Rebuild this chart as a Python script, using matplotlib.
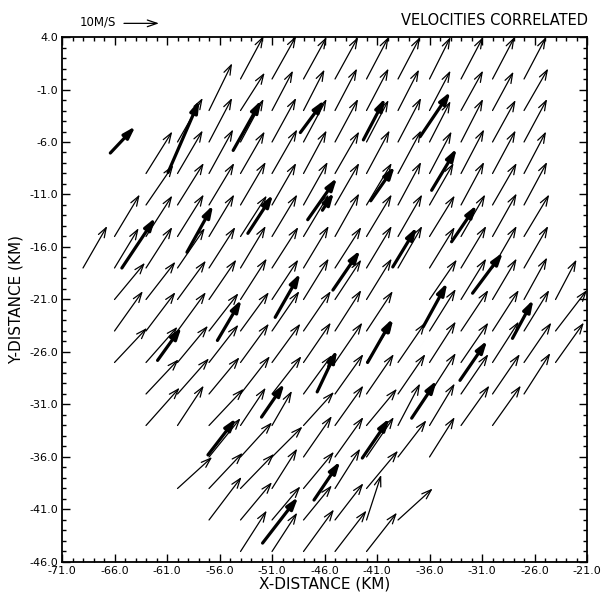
import matplotlib
matplotlib.use('Agg')
import matplotlib.pyplot as plt
from matplotlib.ticker import FixedLocator, FormatStrFormatter

# grid of tail positions (km)
grid_x = [-69, -66, -63, -60, -57, -54, -51, -48, -45, -42, -39, -36, -33, -30, -27, -24]
grid_y = [0, -3, -6, -9, -12, -15, -18, -21, -24, -27, -30, -33, -36, -39, -42, -45]

N = None
# u, v components (m/s), one row per grid_y, None = no vector
grid_u = [
    [N, N, N, N, N, 6.6, 6.9, 6.6, 6.6, 6.3, 6.3, 6.0, 6.3, 6.3, 6.3, N],
    [N, N, N, N, 6.6, 6.9, 6.0, 6.0, 6.3, 6.3, 6.0, 6.0, 6.3, 6.0, 6.9, N],
    [N, N, N, 7.2, 6.6, 6.6, 6.9, 6.6, 6.6, 6.3, 6.6, 6.0, 6.3, 6.6, 6.6, N],
    [N, N, 7.5, 7.2, 6.9, 6.9, 7.2, 6.6, 6.9, 6.6, 6.6, 6.3, 6.6, 6.6, 6.3, N],
    [N, N, 7.8, 7.5, 7.2, 7.2, 6.9, 6.9, 6.9, 7.2, 6.6, 6.9, 6.6, 6.9, 6.6, N],
    [N, 7.2, 7.5, 7.5, 7.2, 7.5, 7.2, 7.2, 6.9, 7.2, 6.9, 7.2, 6.9, 6.9, 7.2, N],
    [6.9, 6.9, 7.5, 7.8, 7.5, 7.2, 7.5, 7.2, 7.5, 7.2, 6.9, 7.2, 7.2, 6.9, 6.9, N],
    [N, 8.7, 8.4, 8.1, 7.8, 7.5, 7.5, 7.2, 7.5, 7.2, N, 7.8, 7.2, 6.9, 6.6, 6.0],
    [N, 8.1, 8.4, 8.1, 8.4, 8.1, 7.8, 7.8, 7.5, 7.5, N, 7.5, 7.8, 7.5, 7.2, 9.0],
    [N, 9.3, 9.0, 8.7, 8.4, 8.1, 8.1, 7.8, 7.8, 7.5, 7.8, 7.5, 7.8, 7.5, 7.8, 8.1],
    [N, N, 9.3, 9.0, 8.7, 8.4, 8.4, 8.1, 8.1, 7.8, 7.8, 7.5, 7.8, 7.8, 7.5, N],
    [N, N, 9.6, 7.5, 9.9, 7.2, 5.7, 8.7, 8.1, 8.7, 6.3, 7.2, 8.1, 8.1, N, N],
    [N, N, N, N, 9.0, 9.0, 8.7, 8.1, 8.1, 7.8, 8.1, 7.2, N, N, N, N],
    [N, N, N, 9.9, 9.6, 9.6, 7.2, 8.7, 7.2, 9.0, N, N, N, N, N, N],
    [N, N, N, N, 9.3, 9.0, 8.1, 8.1, 8.1, 4.2, 9.9, N, N, N, N, N],
    [N, N, N, N, N, 7.5, 7.2, 8.7, 9.0, 8.7, N, N, N, N, N, N],
]
grid_v = [
    [N, N, N, N, N, 12.3, 12.3, 12.0, 12.0, 12.0, 12.0, 12.0, 12.0, 12.0, 12.0, N],
    [N, N, N, N, 13.5, 10.8, 11.4, 11.7, 12.0, 12.0, 11.7, 11.4, 11.4, 11.1, 12.0, N],
    [N, N, N, 12.6, 12.6, 12.3, 12.6, 12.3, 12.3, 12.0, 12.6, 11.7, 12.3, 12.0, 12.3, N],
    [N, N, 12.0, 12.3, 12.6, 12.0, 12.6, 12.3, 12.0, 12.3, 12.3, 12.0, 12.6, 12.3, 12.0, N],
    [N, N, 11.4, 12.0, 12.0, 12.3, 12.0, 12.3, 12.0, 12.0, 12.3, 12.0, 12.3, 12.0, 12.3, N],
    [N, 12.0, 11.7, 12.0, 12.0, 11.7, 12.0, 12.0, 12.3, 12.0, 12.0, 11.7, 12.0, 12.3, 12.0, N],
    [12.0, 11.4, 11.7, 11.4, 11.7, 12.0, 11.7, 12.0, 11.7, 12.0, 12.0, 11.7, 12.0, 12.0, 12.0, N],
    [N, 10.5, 10.8, 11.1, 11.4, 11.7, 11.4, 11.7, 11.4, 11.7, N, 11.4, 11.7, 11.7, 12.0, 11.4],
    [N, 11.4, 11.1, 11.1, 10.8, 11.1, 11.4, 11.4, 11.7, 11.4, N, 12.0, 11.7, 11.7, 11.7, 11.7],
    [N, 9.9, 10.2, 10.5, 10.8, 11.1, 11.1, 11.4, 11.4, 11.7, 11.4, 11.7, 11.4, 11.7, 11.4, 11.4],
    [N, N, 9.9, 10.2, 10.5, 10.8, 10.8, 11.1, 11.4, 11.4, 11.4, 11.7, 11.4, 11.4, 11.7, N],
    [N, N, 10.8, 11.4, 10.5, 10.8, 9.9, 9.6, 11.4, 10.5, 12.0, 12.0, 11.4, 11.4, N, N],
    [N, N, N, N, 11.1, 9.9, 8.7, 11.7, 11.4, 11.4, 10.5, 11.4, N, N, N, N],
    [N, N, N, 9.0, 10.2, 9.9, 11.4, 10.5, 11.4, 10.8, N, N, N, N, N, N],
    [N, N, N, N, 12.3, 10.8, 9.6, 9.9, 10.5, 12.9, 9.0, N, N, N, N, N],
    [N, N, N, N, N, 11.7, 11.1, 12.0, 11.7, 11.1, N, N, N, N, N, N],
]

# correlated (heavy) vectors: tail x, tail y (km), u, v (m/s)
corr_x = [-66.4, -60.9, -54.7, -48.3, -42.3, -36.9, -35.8, -41.6, -46.2, -65.3, -59.1,
          -61.9, -56.2, -53.3, -47.6, -39.5, -45.2, -50.7, -41.9, -46.7, -52.0, -33.9,
          -31.9, -36.6, -28.1, -33.1, -37.7, -57.1, -51.9, -47.0, -42.4]
corr_y = [-7.05, -8.9, -6.8, -5.1, -5.8, -5.5, -10.6, -11.6, -12.5, -18.0, -16.5,
          -26.8, -24.9, -14.7, -13.4, -17.9, -20.1, -22.7, -27.0, -29.8, -32.2, -15.5,
          -20.4, -23.6, -24.7, -28.7, -32.3, -35.8, -44.2, -40.1, -36.1]
corr_u = [7.2, 9.0, 8.1, 6.9, 6.3, 8.7, 7.2, 6.9, 3.3, 9.6, 7.5,
          6.9, 6.9, 7.2, 8.4, 6.9, 7.8, 7.2, 7.2, 5.7, 6.6, 7.2,
          8.7, 6.9, 6.0, 7.8, 7.2, 8.1, 10.2, 7.5, 7.8]
corr_v = [7.65, 20.7, 14.4, 9.3, 12.0, 12.9, 12.0, 9.9, 5.1, 14.4, 13.5,
          9.6, 11.7, 11.1, 12.0, 11.4, 11.4, 12.6, 12.6, 12.0, 9.6, 10.5,
          11.7, 12.6, 11.1, 11.4, 10.8, 10.5, 13.2, 11.1, 11.4]

x_ticks = [-71, -66, -61, -56, -51, -46, -41, -36, -31, -26, -21]
y_ticks = [-46, -41, -36, -31, -26, -21, -16, -11, -6, -1, 4]

SCALE = 3.0   # m/s per km of arrow length
REF_SPEED = 10.0

fig = plt.figure(figsize=(6.05, 5.93), dpi=100)
ax = fig.add_axes([0.1025, 0.0523, 0.8678, 0.8853])

thin = dict(arrowstyle='->,head_length=0.7,head_width=0.24', color='black',
            lw=0.9, shrinkA=0, shrinkB=0)
thick = dict(arrowstyle='-|>,head_length=0.7,head_width=0.22', color='black',
             lw=2.3, shrinkA=0, shrinkB=0)

for j, yy in enumerate(grid_y):
    for i, xx in enumerate(grid_x):
        u = grid_u[j][i]
        v = grid_v[j][i]
        if u is None:
            continue
        ax.annotate('', xy=(xx + u / SCALE, yy + v / SCALE), xytext=(xx, yy),
                    arrowprops=thin, annotation_clip=False)

for xx, yy, u, v in zip(corr_x, corr_y, corr_u, corr_v):
    ax.annotate('', xy=(xx + u / SCALE, yy + v / SCALE), xytext=(xx, yy),
                arrowprops=thick, annotation_clip=False)

ax.set_xlim(-71, -21)
ax.set_ylim(-46, 4)

ax.xaxis.set_major_locator(FixedLocator(x_ticks))
ax.yaxis.set_major_locator(FixedLocator(y_ticks))
ax.xaxis.set_minor_locator(FixedLocator(range(-71, -20)))
ax.yaxis.set_minor_locator(FixedLocator(range(-46, 5)))
ax.xaxis.set_major_formatter(FormatStrFormatter('%.1f'))
ax.yaxis.set_major_formatter(FormatStrFormatter('%.1f'))
ax.tick_params(which='both', direction='in', top=True, right=True, width=1.0)
ax.tick_params(which='major', length=6, labelsize=8, pad=3)
ax.tick_params(which='minor', length=3)
for s in ax.spines.values():
    s.set_linewidth(1.3)

ax.set_xlabel('X-DISTANCE (KM)', fontsize=11, labelpad=0)
ax.set_ylabel('Y-DISTANCE (KM)', fontsize=11, labelpad=4)

# key arrow and titles
ax.text(0.034, 1.029, '10M/S', transform=ax.transAxes, fontsize=8.5, va='center', ha='left')
ax.annotate('', xy=(0.118 + REF_SPEED / SCALE / 50.0, 1.026), xytext=(0.118, 1.026),
            xycoords='axes fraction', arrowprops=thin, annotation_clip=False)
ax.text(1.002, 1.031, 'VELOCITIES CORRELATED', transform=ax.transAxes,
        fontsize=10.5, va='center', ha='right')

fig.savefig('out.png', dpi=100)
